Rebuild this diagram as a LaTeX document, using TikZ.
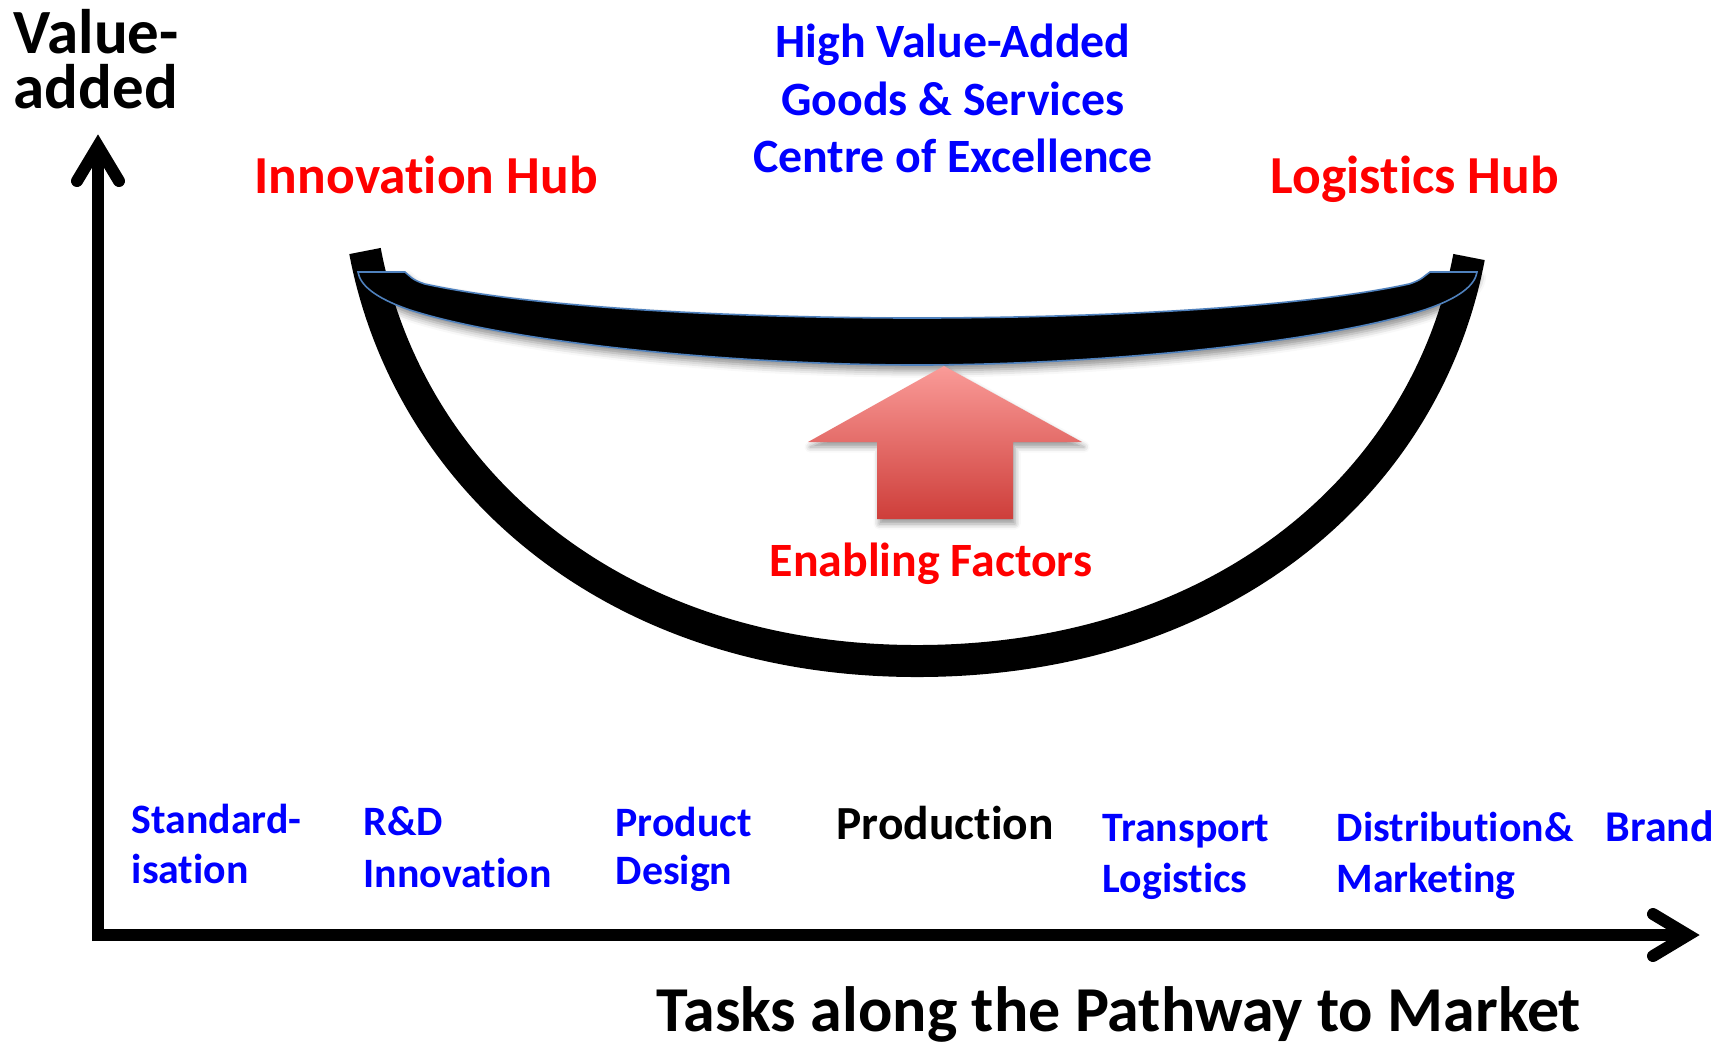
\documentclass[tikz,border=0pt]{standalone}
\usepackage{fontspec}
\setmainfont[Ligatures=NoCommon]{Carlito}
\usetikzlibrary{shadows.blur}
\definecolor{tblue}{RGB}{0,0,255}
\definecolor{tred}{RGB}{255,0,0}
\definecolor{lidblue}{RGB}{79,129,189}
\definecolor{arrtop}{RGB}{250,155,152}
\definecolor{arrbot}{RGB}{206,62,58}
\tikzset{
  txt/.style={inner sep=0pt, anchor=base west, font=\bfseries\fontsize{11.9}{14}\selectfont},
  lbl/.style={txt, text=tblue},
  hub/.style={txt, text=tred, font=\bfseries\fontsize{15.2}{18}\selectfont},
  ctr/.style={inner sep=0pt, anchor=base, text=tblue, font=\bfseries\fontsize{13.6}{16}\selectfont},
  enab/.style={txt, text=tred, font=\bfseries\fontsize{13.6}{16}\selectfont},
  big/.style={inner sep=0pt, anchor=north west, align=left, text=black, font=\bfseries\fontsize{17.9}{15.4}\selectfont},
  task/.style={txt, text=black, font=\bfseries\fontsize{18.2}{21}\selectfont},
  axisline/.style={line width=3.41pt, black, line cap=butt},
  axishead/.style={line width=3.41pt, black, line cap=round, line join=miter},
  smile/.style={line width=9.1pt, black, line cap=butt},
  lid/.style={fill=black, draw=lidblue, line width=0.45pt,
    blur shadow={shadow xshift=0.6pt, shadow yshift=-1.6pt, shadow blur radius=2pt, shadow opacity=45}},
  bigarrow/.style={top color=arrtop, bottom color=arrbot,
    blur shadow={shadow xshift=0.6pt, shadow yshift=-1.4pt, shadow blur radius=1.6pt, shadow opacity=40}}
}
\begin{document}
\begin{tikzpicture}[x=0.01cm,y=-0.01cm]
\useasboundingbox (0,0) rectangle (1731,1041);

% axes
\coordinate (origin) at (98,935);
\coordinate (ytop) at (98,150);
\coordinate (xend) at (1684,935);
\draw[axisline] (98,941) -- (ytop);
\draw[axisline] (92,935) -- (xend);
\coordinate (yl) at (77,181);
\coordinate (yv) at (98,146);
\coordinate (yr) at (119,181);
\draw[axishead] (yl) -- (yv) -- (yr);
\coordinate (xu) at (1653,914);
\coordinate (xv) at (1688,935);
\coordinate (xd) at (1653,956);
\draw[axishead] (xu) -- (xv) -- (xd);

% smile curve
\coordinate (sl) at (365,251);
\coordinate (sb) at (917,661);
\coordinate (sr) at (1469,257);
\draw[smile] (sl) .. controls (408,478) and (612,661) .. (sb)
                  .. controls (1222,661) and (1426,484) .. (sr);

% lid band
\path[lid] (358,272) -- (405,272)
   .. controls (410,276) and (412,280) .. (425,284)
   .. controls (540,309) and (750,318) .. (917,318)
   .. controls (1084,318) and (1294,309) .. (1409,284)
   .. controls (1422,280) and (1424,276) .. (1430,272)
   -- (1477,272)
   .. controls (1475,285) and (1460,298) .. (1424,310)
   .. controls (1314,345) and (1084,365) .. (917,365)
   .. controls (750,365) and (520,345) .. (410,310)
   .. controls (375,298) and (360,285) .. (358,272) -- cycle;

% up arrow
\shade[bigarrow] (944,366) -- (1082,442) -- (1013,442) -- (1013,519)
   -- (877,519) -- (877,442) -- (808,442) -- cycle;

% texts
\node[big] (va) at (13,9) {Value-\\added};
\node[hub] (ihub) at (254,193) {Innovation Hub};
\node[hub] (lhub) at (1270,193) {Logistics Hub};
\node[ctr] (c1) at (953,57) {High Value-Added};
\node[ctr] (c2) at (953,115) {Goods \& Services};
\node[ctr] (c3) at (953,172) {Centre of Excellence};
\node[enab] (enab) at (769,576) {Enabling Factors};

\node[lbl] (s1) at (131,833) {Standard-};
\node[lbl] (s2) at (131,883) {isation};
\node[lbl] (r1) at (363,835) {R\&D};
\node[lbl] (r2) at (363,887) {Innovation};
\node[lbl] (p1) at (615,836) {Product};
\node[lbl] (p2) at (615,884) {Design};
\node[txt, font=\bfseries\fontsize{13.5}{16}\selectfont] (prod) at (836,839) {Production};
\node[lbl] (t1) at (1102,841) {Transport};
\node[lbl] (t2) at (1102,892) {Logistics};
\node[lbl] (d1) at (1336,841) {Distribution\&};
\node[lbl] (d2) at (1336,892) {Marketing};
\node[lbl, font=\bfseries\fontsize{12.5}{15}\selectfont] (br) at (1605,841) {Brand};
\node[task] (tasks) at (656,1031) {Tasks along the Pathway to Market};
\end{tikzpicture}
\end{document}
